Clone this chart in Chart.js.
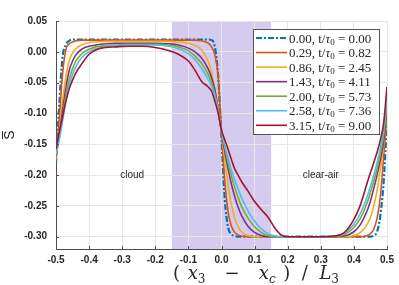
<!DOCTYPE html>
<html>
<head>
<meta charset="utf-8">
<script src="https://cdn.jsdelivr.net/npm/chart.js@4/dist/chart.umd.min.js"></script>
<style>
  html, body { margin:0; padding:0; background:#fff; }
  #wrap { width:399px; height:285px; }
</style>
</head>
<body>
<div id="wrap"><canvas id="grafico" width="399" height="285"></canvas></div>
<script>
// ===============================
// DADOS
// ===============================
const posX = [-0.5,-0.49,-0.48,-0.47,-0.46,-0.45,-0.44,-0.42,-0.40,-0.38,
  -0.35,-0.32,-0.28,-0.24,-0.20,-0.16,-0.13,-0.10,-0.08,-0.06,
  -0.04,-0.03,-0.02,-0.01,0,0.01,0.02,0.03,0.04,0.05,
  0.06,0.08,0.10,0.12,0.14,0.16,0.18,0.20,0.25,0.30,
  0.34,0.37,0.40,0.42,0.44,0.45,0.46,0.47,0.48,0.49,
  0.5];

const s000 = [-0.180,-0.085,-0.008,0.012,0.018,0.020,0.020,0.020,0.020,0.020,
  0.020,0.020,0.020,0.020,0.020,0.020,0.020,0.020,0.020,0.020,
  0.020,0.019,0.008,-0.040,-0.140,-0.240,-0.285,-0.296,-0.299,-0.300,
  -0.300,-0.300,-0.300,-0.300,-0.300,-0.300,-0.300,-0.300,-0.300,-0.300,
  -0.300,-0.300,-0.300,-0.300,-0.300,-0.300,-0.298,-0.292,-0.265,-0.210,
  -0.110];
const s029 = [-0.176,-0.110,-0.035,0.004,0.013,0.016,0.018,0.019,0.019,0.019,
  0.019,0.019,0.019,0.019,0.019,0.019,0.019,0.019,0.019,0.018,
  0.014,0.008,-0.005,-0.040,-0.130,-0.210,-0.260,-0.283,-0.293,-0.297,
  -0.299,-0.300,-0.300,-0.300,-0.300,-0.300,-0.300,-0.300,-0.300,-0.300,
  -0.300,-0.300,-0.300,-0.300,-0.298,-0.295,-0.288,-0.270,-0.235,-0.170,
  -0.100];
const s086 = [-0.173,-0.130,-0.080,-0.040,-0.014,-0.002,0.005,0.012,0.015,0.016,
  0.017,0.017,0.017,0.017,0.017,0.017,0.016,0.014,0.010,0.003,
  -0.016,-0.033,-0.060,-0.094,-0.130,-0.175,-0.215,-0.248,-0.270,-0.284,
  -0.292,-0.298,-0.300,-0.300,-0.300,-0.300,-0.300,-0.300,-0.300,-0.300,
  -0.300,-0.300,-0.298,-0.293,-0.280,-0.268,-0.250,-0.225,-0.190,-0.150,
  -0.095];
const s143 = [-0.170,-0.135,-0.095,-0.058,-0.030,-0.015,-0.005,0.005,0.009,0.011,
  0.013,0.014,0.014,0.014,0.014,0.013,0.011,0.006,0.000,-0.010,
  -0.028,-0.042,-0.062,-0.093,-0.130,-0.162,-0.190,-0.215,-0.235,-0.252,
  -0.265,-0.283,-0.293,-0.298,-0.300,-0.300,-0.300,-0.300,-0.300,-0.300,
  -0.300,-0.299,-0.292,-0.280,-0.258,-0.242,-0.222,-0.200,-0.175,-0.145,
  -0.090];
const s200 = [-0.168,-0.140,-0.105,-0.070,-0.045,-0.027,-0.015,-0.002,0.004,0.008,
  0.010,0.011,0.012,0.012,0.012,0.011,0.008,0.002,-0.007,-0.019,
  -0.037,-0.050,-0.068,-0.095,-0.128,-0.155,-0.180,-0.202,-0.220,-0.236,
  -0.250,-0.270,-0.284,-0.293,-0.298,-0.300,-0.300,-0.300,-0.300,-0.300,
  -0.300,-0.297,-0.285,-0.270,-0.245,-0.228,-0.210,-0.190,-0.165,-0.135,
  -0.085];
const s258 = [-0.166,-0.142,-0.112,-0.080,-0.055,-0.037,-0.024,-0.008,0.000,0.005,
  0.008,0.010,0.011,0.011,0.011,0.009,0.005,-0.003,-0.013,-0.027,
  -0.045,-0.056,-0.072,-0.097,-0.127,-0.152,-0.173,-0.192,-0.208,-0.222,
  -0.236,-0.258,-0.275,-0.287,-0.295,-0.299,-0.300,-0.300,-0.300,-0.300,
  -0.299,-0.295,-0.280,-0.262,-0.235,-0.218,-0.200,-0.180,-0.155,-0.125,
  -0.075];
const s315 = [-0.158,-0.130,-0.105,-0.080,-0.060,-0.046,-0.034,-0.018,-0.004,0.003,
  0.007,0.008,0.009,0.009,0.007,0.002,-0.004,-0.015,-0.030,-0.048,
  -0.057,-0.064,-0.080,-0.100,-0.127,-0.143,-0.158,-0.175,-0.190,-0.200,
  -0.210,-0.226,-0.243,-0.256,-0.268,-0.285,-0.297,-0.300,-0.300,-0.300,
  -0.299,-0.294,-0.272,-0.248,-0.213,-0.196,-0.180,-0.163,-0.143,-0.115,
  -0.057];

const series = [s000, s029, s086, s143, s200, s258, s315];
const tempos = ["0.00","0.29","0.86","1.43","2.00","2.58","3.15"];
const taus   = ["0.00","0.82","2.45","4.11","5.73","7.36","9.00"];
const cores  = ["#0072BD","#D95319","#EDB120","#7E2F8E","#77AC30","#4DBEEE","#A2142F"];

const ticksX = [-0.5,-0.4,-0.3,-0.2,-0.1,0,0.1,0.2,0.3,0.4,0.5];
const ticksY = [-0.30,-0.25,-0.20,-0.15,-0.10,-0.05,0,0.05];
const faixa  = [-0.15, 0.15];
const regioes = [{texto:"cloud", x:-0.27, y:-0.20}, {texto:"clear-air", x:0.30, y:-0.20}];

const corTexto = "#262626";
const corEixo = "#4d4d4d";


// ===============================
// PLUGINS
// ===============================
const faixaPlugin = {
  id: "faixa",
  beforeDraw(chart){
    const {ctx, chartArea:a, scales:{x}} = chart;
    const x0 = x.getPixelForValue(faixa[0]);
    const x1 = x.getPixelForValue(faixa[1]);
    ctx.save();
    ctx.fillStyle = "#d4cbef";
    ctx.fillRect(x0, a.top, x1 - x0, a.bottom - a.top);
    ctx.restore();
  }
};

// texto com pedacos de fonte diferente (subscritos etc)
function textoMisto(ctx, partes, x, y, extra){
  let cx = x;
  partes.forEach(p => {
    ctx.font = p.f;
    ctx.fillText(p.t, cx, y + (p.dy || 0));
    cx += ctx.measureText(p.t).width + (p.gap || 0) * (extra || 0);
  });
  return cx;
}
function larguraMista(ctx, partes){
  let w = 0;
  partes.forEach(p => { ctx.font = p.f; w += ctx.measureText(p.t).width; });
  return w;
}

const extrasPlugin = {
  id: "extras",
  afterDraw(chart){
    const {ctx, chartArea:a, scales:{x, y}} = chart;
    ctx.save();

    // ticks para dentro
    ctx.strokeStyle = corEixo;
    ctx.lineWidth = 1;
    ctx.beginPath();
    ticksX.forEach(v => {
      const px = Math.round(x.getPixelForValue(v)) + 0.5;
      ctx.moveTo(px, a.bottom); ctx.lineTo(px, a.bottom - 3);
    });
    ticksY.forEach(v => {
      const py = Math.round(y.getPixelForValue(v)) + 0.5;
      ctx.moveTo(a.left, py); ctx.lineTo(a.left + 3, py);
    });
    ctx.stroke();

    // rotulos das regioes
    ctx.fillStyle = corTexto;
    ctx.font = "10px 'Liberation Sans', Arial, sans-serif";
    ctx.textAlign = "center";
    ctx.textBaseline = "middle";
    regioes.forEach(r => {
      ctx.fillText(r.texto, x.getPixelForValue(r.x), y.getPixelForValue(r.y));
    });

    // legenda
    const lx = 253.5, ly = 29.5, lw = 126, lh = 105;
    ctx.fillStyle = "#fff";
    ctx.fillRect(lx, ly, lw, lh);
    ctx.strokeStyle = "#555";
    ctx.strokeRect(lx, ly, lw, lh);
    ctx.textAlign = "left";
    ctx.textBaseline = "alphabetic";
    const fn = "13px 'Liberation Serif', 'Times New Roman', serif";
    const fi = "italic 13px 'Liberation Serif', 'Times New Roman', serif";
    const fs = "9px 'Liberation Serif', 'Times New Roman', serif";
    chart.data.datasets.forEach((ds, i) => {
      const yy = 38 + i * 14.55;
      ctx.strokeStyle = ds.borderColor;
      ctx.lineWidth = ds.borderWidth;
      ctx.setLineDash(ds.borderDash || []);
      ctx.beginPath();
      ctx.moveTo(256, yy); ctx.lineTo(287, yy);
      ctx.stroke();
      ctx.setLineDash([]);
      ctx.fillStyle = corTexto;
      textoMisto(ctx, [
        {t: tempos[i] + ", t/", f: fn},
        {t: "\u03c4", f: fi},
        {t: "0", f: fs, dy: 2},
        {t: " = " + taus[i], f: fn}
      ], 289, yy + 4.5);
    });

    // titulo eixo x
    const fI = "italic 18px 'DejaVu Serif', serif";
    const fN = "18px 'DejaVu Serif', serif";
    const fS = "12px 'DejaVu Serif', serif";
    const fSI = "italic 12px 'DejaVu Serif', serif";
    const partesX = [
      {t:"(", f:fN, gap:0.4}, {t:"x", f:fI}, {t:"3", f:fS, dy:4, gap:1},
      {t:"\u2212", f:fN, gap:1}, {t:"x", f:fI}, {t:"c", f:fSI, dy:4, gap:0.4},
      {t:")", f:fN, gap:0.6}, {t:"/", f:fN, gap:0.6}, {t:"L", f:fI}, {t:"3", f:fS, dy:4}
    ];
    ctx.fillStyle = corTexto;
    const wx = larguraMista(ctx, partesX);
    const pesos = partesX.reduce((s, p) => s + (p.gap || 0), 0);
    const extra = Math.max(0, (166 - wx) / pesos);
    textoMisto(ctx, partesX, 173, 279, extra);

    // titulo eixo y (S barra)
    ctx.translate(9, (a.top + a.bottom) / 2);
    ctx.rotate(-Math.PI / 2);
    ctx.font = "14px 'Liberation Sans', Arial, sans-serif";
    ctx.textAlign = "center";
    ctx.textBaseline = "alphabetic";
    ctx.fillText("S", 0, 5);
    ctx.strokeStyle = corTexto;
    ctx.lineWidth = 1;
    ctx.beginPath();
    ctx.moveTo(-4, -6.5); ctx.lineTo(4, -6.5);
    ctx.stroke();

    ctx.restore();
  }
};


// ===============================
// GRAFICO
// ===============================
function criarGrafico(){
  const ctx = document.getElementById("grafico");

  const datasets = series.map((s, i) => ({
    label: tempos[i] + ", t/\u03c40 = " + taus[i],
    data: posX.map((v, k) => ({x: v, y: s[k]})),
    borderColor: cores[i],
    backgroundColor: cores[i],
    borderWidth: i === 0 ? 2.2 : 1.6,
    borderDash: i === 0 ? [6, 2, 2, 2] : undefined,
    pointRadius: 0,
    cubicInterpolationMode: "monotone",
    fill: false,
    order: 6 - i
  }));

  new Chart(ctx, {
    type: "line",
    data: { datasets },
    options: {
      responsive: false,
      animation: false,
      devicePixelRatio: 1,
      layout: { padding: { top: 21, right: 12, left: 0, bottom: 0 } },
      plugins: { legend: { display: false }, tooltip: { enabled: false } },
      scales: {
        x: {
          type: "linear", min: -0.5, max: 0.5,
          afterBuildTicks: s => { s.ticks = ticksX.map(v => ({value: v})); },
          afterFit: s => { s.height = 36; },
          ticks: {
            callback: v => v.toFixed(1),
            color: corTexto, padding: 5,
            font: { family: "'Liberation Sans', Arial, sans-serif", size: 10, weight: "bold" },
            maxRotation: 0
          },
          grid: { color: "#e6e6e6", drawTicks: false },
          border: { color: corEixo, width: 1 }
        },
        y: {
          min: -0.32, max: 0.05,
          afterBuildTicks: s => { s.ticks = ticksY.map(v => ({value: v})); },
          afterFit: s => { s.width = 56; },
          ticks: {
            callback: v => v.toFixed(2),
            color: corTexto, padding: 9,
            font: { family: "'Liberation Sans', Arial, sans-serif", size: 10, weight: "bold" }
          },
          grid: { color: "#e6e6e6", drawTicks: false },
          border: { color: corEixo, width: 1 }
        }
      }
    },
    plugins: [faixaPlugin, extrasPlugin]
  });
}


// ===============================
// INIT
// ===============================
criarGrafico();
</script>
</body>
</html>
